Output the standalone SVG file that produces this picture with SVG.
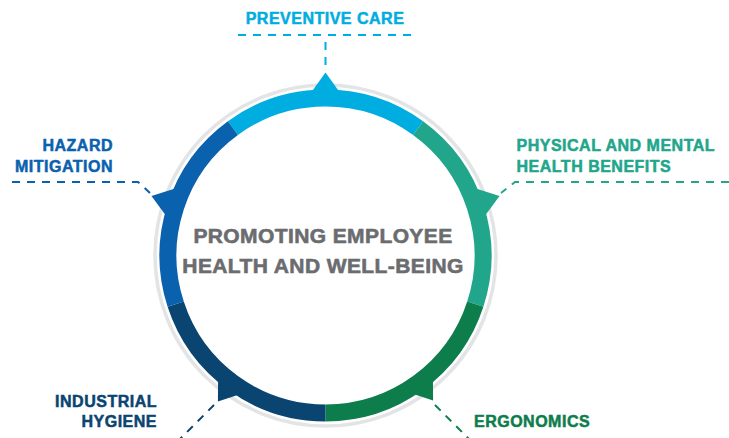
<svg xmlns="http://www.w3.org/2000/svg" xmlns:xlink="http://www.w3.org/1999/xlink" width="729" height="438" viewBox="0 0 729 438">
  <style>
    .lbl { font-family: "Liberation Sans", Arial, sans-serif; font-weight: bold; font-size: 16px; letter-spacing: 0.5px; stroke-width: 0.5px; }
    .ctr { font-family: "Liberation Sans", Arial, sans-serif; font-weight: bold; font-size: 21px; letter-spacing: 0.4px; fill: #6b6c6f; stroke: #6b6c6f; stroke-width: 0.6px; }
    .seg { fill: none; stroke-width: 17; }
    .dash { fill: none; stroke-width: 2; stroke-dasharray: 8 7; }
  </style>
  <defs>
    <polygon id="ptr" points="311.5,92 325.5,72.5 339.5,92"/>
  </defs>
  <rect width="729" height="438" fill="#ffffff"/>

  <circle cx="325.5" cy="255.5" r="170.5" fill="none" stroke="#e3e4e5" stroke-width="3.5"/>

  <g id="connectors">
    <path class="dash" stroke="#00ade0" d="M238,35 H413"/>
    <path class="dash" stroke="#00ade0" d="M325.5,42 V70"/>
    <path class="dash" stroke="#0a61ae" d="M12,182 H138 L150,193"/>
    <path class="dash" stroke="#21a68b" d="M729,182 H515 L501,193"/>
    <path class="dash" stroke="#0a4471" d="M214,405 L180,439"/>
    <path class="dash" stroke="#0d7d4c" d="M435,405 L469,439"/>
  </g>

  <g id="preventive-care">
    <path class="seg" stroke="#00ade0" d="M232.92,128.08 A157.5,157.5 0 0 1 418.08,128.08"/>
    <use xlink:href="#ptr" fill="#00ade0"/>
    <text class="lbl" fill="#00ade0" stroke="#00ade0" x="325" y="24" text-anchor="middle">PREVENTIVE CARE</text>
  </g>
  <g id="physical-mental-health">
    <path class="seg" stroke="#21a68b" d="M418.08,128.08 A157.5,157.5 0 0 1 475.30,304.17"/>
    <use xlink:href="#ptr" fill="#21a68b" transform="translate(0,-3) rotate(72 325.5 255.5)"/>
    <text class="lbl" fill="#21a68b" stroke="#21a68b" x="516.5" y="151">PHYSICAL AND MENTAL</text>
    <text class="lbl" fill="#21a68b" stroke="#21a68b" x="516.5" y="172">HEALTH BENEFITS</text>
  </g>
  <g id="ergonomics">
    <path class="seg" stroke="#0d7d4c" d="M475.30,304.17 A157.5,157.5 0 0 1 325.5,413"/>
    <use xlink:href="#ptr" fill="#0d7d4c" transform="translate(0,-3) rotate(144 325.5 255.5)"/>
    <text class="lbl" fill="#0d7d4c" stroke="#0d7d4c" x="474" y="427">ERGONOMICS</text>
  </g>
  <g id="industrial-hygiene">
    <path class="seg" stroke="#0a4471" d="M325.5,413 A157.5,157.5 0 0 1 175.70,304.17"/>
    <use xlink:href="#ptr" fill="#0a4471" transform="translate(0,-2) rotate(216 325.5 255.5)"/>
    <text class="lbl" fill="#0a4471" stroke="#0a4471" x="157" y="407" text-anchor="end">INDUSTRIAL</text>
    <text class="lbl" fill="#0a4471" stroke="#0a4471" x="157" y="427" text-anchor="end">HYGIENE</text>
  </g>
  <g id="hazard-mitigation">
    <path class="seg" stroke="#0a61ae" d="M175.70,304.17 A157.5,157.5 0 0 1 232.92,128.08"/>
    <use xlink:href="#ptr" fill="#0a61ae" transform="translate(0,-3) rotate(288 325.5 255.5)"/>
    <text class="lbl" fill="#0a61ae" stroke="#0a61ae" x="113" y="151" text-anchor="end">HAZARD</text>
    <text class="lbl" fill="#0a61ae" stroke="#0a61ae" x="113" y="172" text-anchor="end">MITIGATION</text>
  </g>

  <g id="center">
    <text class="ctr" x="323" y="243" text-anchor="middle">PROMOTING EMPLOYEE</text>
    <text class="ctr" x="323" y="273" text-anchor="middle">HEALTH AND WELL-BEING</text>
  </g>
</svg>
